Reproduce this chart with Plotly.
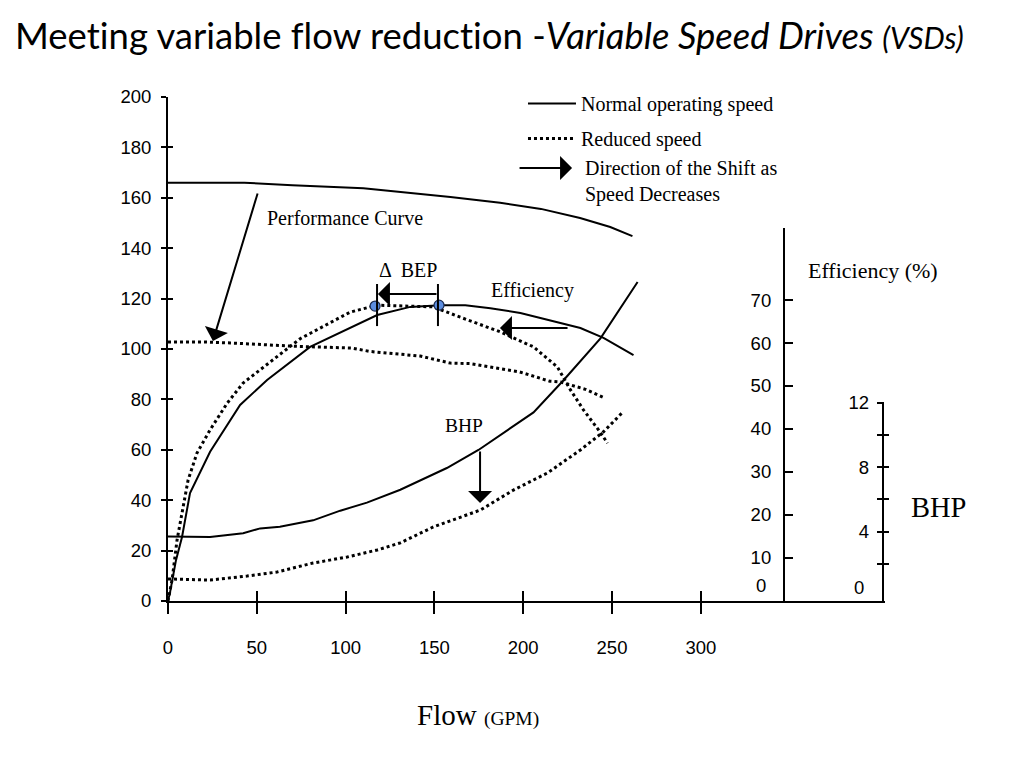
import plotly.graph_objects as go

# ---------------- data ----------------
# Head (performance) curves, main axis units
head_norm_x = [0, 20, 43, 70, 91, 110, 131, 159, 187, 210, 232, 249, 261.5]
head_norm_y = [166, 166, 166, 165, 164.3, 163.8, 162.3, 160.3, 158, 155.6, 152, 148.4, 144.8]
head_red_x = [0, 20, 35, 74, 103, 114, 142, 159, 170, 198, 215, 221, 235, 246]
head_red_y = [102.8, 102.8, 102.4, 101, 100.4, 99, 97.2, 94.4, 94.2, 90.9, 87.2, 86.9, 84, 80.5]

# Efficiency curves (%), efficiency axis
eff_norm_x = [0, 1.1, 4.5, 7.9, 12.4, 23.7, 40.6, 55.8, 80, 99.8, 117.8, 136.4, 153.3, 167.4, 181.5, 198.4, 215.3, 232.2, 245.2, 262.1]
eff_norm_y = [0, 1.9, 9.5, 14.9, 25.1, 34.7, 45.6, 51.4, 59.1, 63.0, 66.5, 68.4, 68.8, 68.8, 68.1, 67.0, 65.3, 63.5, 61.2, 57.2]
eff_red_x = [0, 2.3, 5.1, 7.9, 11.3, 16.3, 23.7, 33.3, 42.3, 74.4, 102.6, 117.8, 149.4, 164.6, 187, 205.8, 219.3, 226.6, 234, 242.4, 247.5]
eff_red_y = [0, 4.9, 14.2, 20.5, 28.1, 34.4, 39.8, 46.0, 50.7, 61.0, 67.2, 68.8, 68.4, 66.0, 62.6, 59.1, 54.4, 49.1, 44.4, 39.8, 36.7]

# BHP curves, BHP axis
bhp_norm_x = [0, 23.7, 42.3, 51.9, 63, 81.7, 97, 112, 130.8, 157, 174.8, 191, 205.8, 222.7, 243.5, 264.4]
bhp_norm_y = [3.7, 3.66, 3.9, 4.2, 4.3, 4.7, 5.3, 5.8, 6.6, 7.95, 9.07, 10.3, 11.4, 13.4, 16.0, 19.5]
bhp_red_x = [0, 23.7, 44.5, 61.4, 81.7, 100.9, 117.8, 130.8, 149.4, 175.9, 194.5, 213.6, 232.2, 245.2, 255.9]
bhp_red_y = [1.06, 0.99, 1.24, 1.49, 2.05, 2.42, 2.86, 3.3, 4.29, 5.34, 6.58, 7.64, 9.07, 10.2, 11.4]

# Best efficiency points (flow, efficiency %)
bep_x = [116.6, 152.6]
bep_y = [68.6, 68.8]

x_ticks = [0, 50, 100, 150, 200, 250, 300]
eff_ticks = [10, 20, 30, 40, 50, 60, 70]
bhp_ticks = [2, 4, 6, 8, 10, 12]
bhp_labels = ["", "4", "", "8", "", "12"]

# ---------------- figure ----------------
SERIF = "Liberation Serif"
SANS = "Liberation Sans"
X_RANGE = [0, 403.7]
BHP_DATA_RANGE = [-0.31, 30.99]
BHP_AX_RANGE = [-0.31, 12.05]
BHP_DOM = [0, 0.3948]
EFF_RANGE = [0, 86.74]
EFF_DOM = [0, 0.740]
EFF_POS = 0.859
BHP_POS = 0.997

fig = go.Figure()

fig.add_trace(go.Scatter(x=head_norm_x, y=head_norm_y, mode="lines",
                         line=dict(color="black", width=2), name="Normal operating speed",
                         legendgroup="n", hoverinfo="skip"))
fig.add_trace(go.Scatter(x=head_red_x, y=head_red_y, mode="lines",
                         line=dict(color="black", width=3, dash="dot"), name="Reduced speed",
                         legendgroup="r", hoverinfo="skip"))
fig.add_trace(go.Scatter(x=eff_norm_x, y=eff_norm_y, yaxis="y2", mode="lines",
                         line=dict(color="black", width=2), showlegend=False, hoverinfo="skip"))
fig.add_trace(go.Scatter(x=eff_red_x, y=eff_red_y, yaxis="y2", mode="lines",
                         line=dict(color="black", width=3, dash="dot"), showlegend=False, hoverinfo="skip"))
fig.add_trace(go.Scatter(x=bhp_norm_x, y=bhp_norm_y, yaxis="y3", mode="lines",
                         line=dict(color="black", width=2), showlegend=False, hoverinfo="skip"))
fig.add_trace(go.Scatter(x=bhp_red_x, y=bhp_red_y, yaxis="y3", mode="lines",
                         line=dict(color="black", width=3, dash="dot"), showlegend=False, hoverinfo="skip"))
fig.add_trace(go.Scatter(x=bep_x, y=bep_y, yaxis="y2", mode="markers",
                         marker=dict(color="#5b8de0", size=10, line=dict(color="#1a2a50", width=1.2)),
                         showlegend=False, hoverinfo="skip"))

# placeholder traces so that the decorative axes are drawn
for xa, ya in [("x2", "y"), ("x", "y4"), ("x", "y5"), ("x", "y6")]:
    fig.add_trace(go.Scatter(x=[None], y=[None], xaxis=xa, yaxis=ya, mode="lines",
                             showlegend=False, hoverinfo="skip"))

tickfont = dict(family=SANS, size=18.5, color="black")
fig.update_layout(
    width=1024, height=768,
    margin=dict(l=160, r=147, t=89, b=175),
    paper_bgcolor="white", plot_bgcolor="rgba(0,0,0,0)",
    showlegend=True,
    legend=dict(x=0.4951, y=1.026, xanchor="left", yanchor="top", itemwidth=48,
                font=dict(family=SERIF, size=20, color="black"),
                traceorder="grouped", tracegroupgap=6, bgcolor="rgba(0,0,0,0)"),
    xaxis=dict(range=X_RANGE, showgrid=False, zeroline=False, showline=True,
               linecolor="black", linewidth=2, tickvals=x_ticks, ticks="outside",
               ticklen=11, tickwidth=2, tickcolor="black", tickfont=tickfont,
               ticklabelstandoff=18, anchor="y"),
    xaxis2=dict(range=X_RANGE, overlaying="x", anchor="y", showgrid=False, zeroline=False,
                showline=False, tickvals=x_ticks, ticks="inside", ticklen=10, tickwidth=2,
                tickcolor="black", showticklabels=False),
    yaxis=dict(range=[0, 200], showgrid=False, zeroline=False, showline=True,
               linecolor="black", linewidth=2, tickvals=list(range(0, 201, 20)),
               ticks="outside", ticklen=5, tickwidth=2, tickcolor="black",
               tickfont=tickfont, ticklabelstandoff=6, anchor="x"),
    yaxis6=dict(range=[0, 200], overlaying="y", anchor="x", showgrid=False, zeroline=False,
                showline=False, tickvals=list(range(0, 201, 20)), ticks="inside",
                ticklen=5, tickwidth=2, tickcolor="black", showticklabels=False),
    yaxis2=dict(range=EFF_RANGE, domain=EFF_DOM, anchor="free", position=EFF_POS,
                side="left", showgrid=False, zeroline=False, showline=True,
                linecolor="black", linewidth=2, tickvals=eff_ticks, ticks="inside",
                ticklen=8, tickwidth=2, tickcolor="black", tickfont=tickfont,
                ticklabelstandoff=8),
    yaxis3=dict(range=BHP_DATA_RANGE, domain=[0, 1], anchor="free", position=BHP_POS,
                visible=False),
    yaxis4=dict(range=BHP_AX_RANGE, domain=BHP_DOM, anchor="free", position=BHP_POS,
                side="left", showgrid=False, zeroline=False, showline=True,
                linecolor="black", linewidth=2, tickvals=bhp_ticks, ticktext=bhp_labels,
                ticks="outside", ticklen=5, tickwidth=2, tickcolor="black",
                tickfont=tickfont, ticklabelstandoff=4),
    yaxis5=dict(range=BHP_AX_RANGE, domain=BHP_DOM, anchor="free", position=BHP_POS,
                side="left", showgrid=False, zeroline=False, showline=False,
                tickvals=bhp_ticks, ticks="inside", ticklen=5, tickwidth=2,
                tickcolor="black", showticklabels=False),
)

serif20 = dict(family=SERIF, size=20, color="black")
ann = []
# title
ann.append(dict(xref="paper", yref="paper", x=-0.216, y=1.123, xanchor="left", yanchor="middle",
                showarrow=False,
                text="<span style='font-variant-ligatures:none'>Meeting variable flow reduction -"
                     "<i>Variable Speed Drives </i>"
                     "<i><span style='font-size:30px'>(VSDs)</span></i></span>",
                font=dict(family="Lato", size=36.5, color="black")))
# axis title
ann.append(dict(xref="paper", yref="paper", x=0.432, y=-0.226, xanchor="center", yanchor="middle",
                showarrow=False,
                text="Flow <span style='font-size:19.5px'>(GPM)</span>",
                font=dict(family=SERIF, size=29, color="black")))
# right axis titles
ann.append(dict(xref="x", yref="y", x=397, y=131, xanchor="center", yanchor="middle",
                showarrow=False, text="Efficiency (%)",
                font=dict(family=SERIF, size=22, color="black")))
ann.append(dict(xref="paper", yref="paper", x=1.0746, y=(601 - 507) / 504, xanchor="center",
                yanchor="middle", showarrow=False, text="BHP",
                font=dict(family=SERIF, size=28.5, color="black")))
# zero labels of efficiency and BHP axes
ann.append(dict(xref="paper", yref="y2", x=EFF_POS - 0.0225, y=3.7, xanchor="right", yanchor="middle",
                showarrow=False, text="0", font=tickfont))
ann.append(dict(xref="paper", yref="y4", x=BHP_POS - 0.0235, y=0.5, xanchor="right", yanchor="middle",
                showarrow=False, text="0", font=tickfont))
# curve labels
ann.append(dict(xref="x", yref="y", x=99.9, y=152, showarrow=False, text="Performance Curve",
                font=serif20))
ann.append(dict(xref="x", yref="y", x=135.1, y=131.3, showarrow=False, text="\u0394  BEP",
                font=serif20))
ann.append(dict(xref="x", yref="y", x=205.5, y=123.4, showarrow=False, text="Efficiency",
                font=serif20))
ann.append(dict(xref="x", yref="y", x=166.7, y=69.8, showarrow=False, text="BHP",
                font=dict(family=SERIF, size=19.5, color="black")))
# legend third item
ann.append(dict(xref="x", yref="y", x=233.6, y=166.4, xanchor="left", yanchor="middle",
                align="left", showarrow=False,
                text="Direction of the Shift as<br>Speed Decreases", font=serif20))

arrow_style = dict(showarrow=True, arrowhead=1, arrowsize=2.0, arrowwidth=2,
                   arrowcolor="black", text="", axref="x", ayref="y", xref="x", yref="y")
# (head x, head y, tail x, tail y) in main-axis units
arrows = [
    (25.3, 103.2, 50.7, 162.3),     # performance curve shift
    (118.2, 121.8, 152.0, 121.8),   # delta BEP
    (186.9, 108.3, 225.8, 108.3),   # efficiency shift
    (175.7, 38.9, 175.7, 59.9),     # BHP shift
    (227.5, 171.8, 197.1, 171.8),   # legend arrow
]
for hx, hy, tx, ty in arrows:
    ann.append(dict(x=hx, y=hy, ax=tx, ay=ty, **arrow_style))

fig.update_layout(annotations=ann)

# BEP vertical markers
for bx in [117.7, 152.0]:
    fig.add_shape(type="line", xref="x", yref="y", x0=bx, x1=bx, y0=109.1, y1=125.8,
                  line=dict(color="black", width=2))

fig.write_html("out.html")
